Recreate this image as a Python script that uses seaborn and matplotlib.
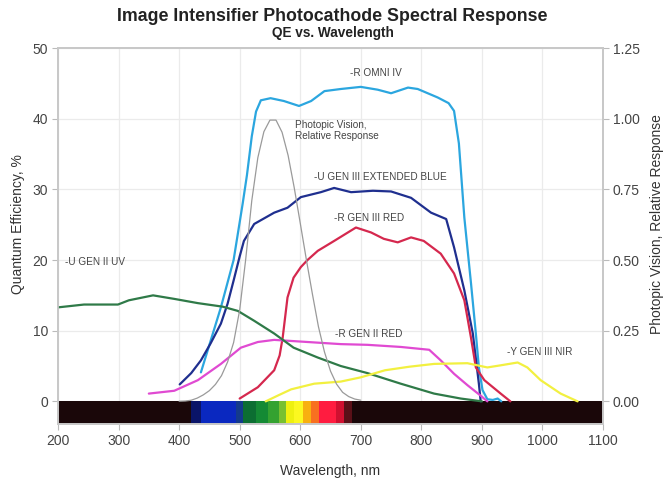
import numpy as np
import pandas as pd
import matplotlib
matplotlib.use("Agg")
import matplotlib.pyplot as plt
import seaborn as sns

# Curve data (wavelength nm, QE %)
omni_wl = [436, 469, 490, 505, 512, 520, 527, 535, 551, 573, 598, 618, 640, 667, 700, 728, 750, 778, 794, 827, 845, 854, 862, 871, 882, 890, 895, 901, 909, 918, 926, 932]
omni_qe = [4.1, 13.3, 20.0, 28.0, 32.0, 37.5, 41.0, 42.6, 42.9, 42.5, 41.8, 42.5, 43.9, 44.2, 44.5, 44.1, 43.6, 44.4, 44.2, 43.0, 42.2, 41.1, 36.5, 26.0, 16.7, 9.6, 4.8, 1.6, 0.3, 0.2, 0.4, 0.0]

blue_wl = [401, 420, 436, 452, 469, 480, 490, 500, 507, 524, 557, 579, 601, 634, 656, 684, 720, 750, 783, 816, 841, 854, 871, 885, 895, 898]
blue_qe = [2.4, 4.0, 5.8, 8.2, 11.0, 13.8, 17.1, 20.5, 22.7, 25.1, 26.7, 27.4, 28.9, 29.6, 30.2, 29.6, 29.8, 29.7, 28.8, 26.7, 25.8, 21.8, 15.7, 9.6, 2.5, 0.0]

red3_wl = [500, 530, 557, 566, 571, 579, 589, 601, 612, 629, 656, 692, 717, 738, 761, 783, 804, 832, 854, 871, 882, 890, 904, 931, 947]
red3_qe = [0.4, 2.0, 4.4, 6.5, 9.0, 14.7, 17.5, 19.0, 20.0, 21.3, 22.7, 24.6, 23.9, 23.0, 22.5, 23.2, 22.7, 20.9, 18.1, 14.3, 9.0, 4.8, 3.0, 1.1, 0.0]

red2_wl = [350, 392, 431, 469, 502, 530, 557, 612, 667, 711, 766, 813, 832, 854, 876, 898, 909]
red2_qe = [1.1, 1.5, 3.0, 5.3, 7.6, 8.4, 8.7, 8.4, 8.1, 8.0, 7.7, 7.3, 5.8, 3.9, 2.3, 0.8, 0.0]

uv_wl = [200, 243, 299, 317, 357, 392, 431, 472, 497, 524, 557, 589, 629, 667, 711, 766, 821, 865, 900]
uv_qe = [13.3, 13.7, 13.7, 14.3, 15.0, 14.5, 13.9, 13.4, 12.8, 11.4, 9.6, 7.6, 6.2, 5.0, 4.0, 2.5, 1.1, 0.4, 0.0]

nir_wl = [543, 565, 585, 623, 667, 700, 740, 780, 821, 876, 909, 931, 959, 975, 997, 1030, 1058]
nir_qe = [0.0, 0.9, 1.7, 2.5, 2.8, 3.4, 4.4, 4.9, 5.3, 5.4, 4.8, 5.1, 5.5, 4.8, 3.0, 1.1, 0.0]

# Photopic vision, relative response (right axis)
phot_wl = [400, 410, 420, 430, 440, 450, 460, 470, 480, 490, 500, 510, 520, 530, 540, 550, 560, 570, 580, 590, 600, 610, 620, 630, 640, 650, 660, 670, 680, 690, 700]
phot_v = [0.0004, 0.0012, 0.004, 0.0116, 0.023, 0.038, 0.06, 0.091, 0.139, 0.208, 0.323, 0.503, 0.71, 0.862, 0.954, 0.995, 0.995, 0.952, 0.87, 0.757, 0.631, 0.503, 0.381, 0.265, 0.175, 0.107, 0.061, 0.032, 0.017, 0.0082, 0.0041]

# Spectrum strip below zero
band_edges = [200, 419, 436, 494, 505, 527, 546, 565, 576, 590, 604, 617, 631, 659, 672, 686, 1100]
band_colors = ["#1a0709", "#0a1468", "#0a28c0", "#143a8c", "#0c6e32", "#148a34",
               "#34a230", "#78c030", "#eef010", "#fcf820", "#f8b010", "#f87020",
               "#ff1c40", "#d01030", "#5a1018", "#1a0709"]

series = [
    ("-R OMNI IV", omni_wl, omni_qe, "#2ba6df"),
    ("-U GEN III EXTENDED BLUE", blue_wl, blue_qe, "#1f2f8f"),
    ("-R GEN III RED", red3_wl, red3_qe, "#d5284e"),
    ("-R GEN II RED", red2_wl, red2_qe, "#e04ad2"),
    ("-U GEN II UV", uv_wl, uv_qe, "#2f7a48"),
    ("-Y GEN III NIR", nir_wl, nir_qe, "#f2f040"),
]

sns.set_theme(style="whitegrid")
plt.rcParams['font.family'] = ['Liberation Sans', 'DejaVu Sans']
plt.rcParams['axes.edgecolor'] = '#c8c8c8'
plt.rcParams['grid.color'] = '#ebebeb'

fig = plt.figure(figsize=(6.65, 4.83), dpi=100)
ax = fig.add_axes([0.0872, 0.1222, 0.8196, 0.7784])

ymin = -3.2
ax.set_xlim(200, 1100)
ax.set_ylim(ymin, 50)

# spectrum strip
lefts = band_edges[:-1]
widths = np.diff(band_edges)
ax.bar(lefts, [0 - ymin] * len(lefts), width=widths, bottom=ymin, align='edge',
       color=band_colors, edgecolor='none', zorder=1)

for name, wl, qe, col in series:
    sns.lineplot(x=wl, y=qe, ax=ax, color=col, linewidth=1.6, sort=False, zorder=3)

ax.set_xticks(range(200, 1101, 100))
ax.set_yticks(range(0, 51, 10))
ax.tick_params(axis='both', labelsize=10, colors='#444444', length=4, width=0.8,
               color='#bbbbbb', bottom=True, left=True, pad=3)
ax.set_xlabel("Wavelength, nm", fontsize=10, color='#333333', labelpad=12)
ax.set_ylabel("Quantum Efficiency, %", fontsize=10, color='#333333')
ax.yaxis.set_label_coords(-0.06, 0.532)
ax.grid(True, color='#ebebeb', linewidth=0.9)
ax.set_axisbelow(True)

# right axis for photopic response
ax2 = ax.twinx()
ax2.set_ylim(ymin / 40, 1.25)
ax2.grid(False)
sns.lineplot(x=phot_wl, y=phot_v, ax=ax2, color='#9a9a9a', linewidth=0.9, zorder=2)
ax2.set_yticks([0, 0.25, 0.5, 0.75, 1.0, 1.25])
ax2.set_yticklabels([f"{v:.2f}" for v in [0, 0.25, 0.5, 0.75, 1.0, 1.25]])
ax2.tick_params(axis='y', labelsize=10, colors='#444444', length=4, width=0.8,
                color='#bbbbbb', right=True, pad=3)
ax2.set_ylabel("Photopic Vision, Relative Response", fontsize=10, color='#333333')
ax2.yaxis.set_label_coords(1.087, 0.532)
for sp in ax2.spines.values():
    sp.set_color('#c8c8c8')

# curve labels
lab = dict(fontsize=7.2, color='#444444', va='top', ha='left')
ax.text(683, 47.2, "-R OMNI IV", **lab)
ax.text(591, 39.8, "Photopic Vision,\nRelative Response", linespacing=1.15, **lab)
ax.text(622, 32.4, "-U GEN III EXTENDED BLUE", **lab)
ax.text(655, 26.6, "-R GEN III RED", **lab)
ax.text(212, 20.4, "-U GEN II UV", **lab)
ax.text(658, 10.2, "-R GEN II RED", **lab)
ax.text(942, 7.7, "-Y GEN III NIR", **lab)

fig.text(0.5, 0.965, "Image Intensifier Photocathode Spectral Response", ha='center', va='center',
         fontsize=12.8, fontweight='bold', color='#222222')
fig.text(0.5, 0.931, "QE vs. Wavelength", ha='center', va='center',
         fontsize=9.8, fontweight='bold', color='#222222')

fig.savefig("out.png", dpi=100)
